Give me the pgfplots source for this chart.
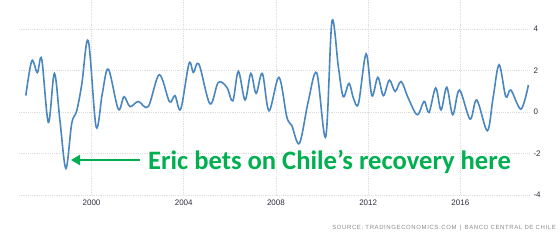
\documentclass[border=0pt]{standalone}
\usepackage{fontspec}
\setmainfont{Liberation Sans}
\newfontfamily\calibri{Carlito}
\newfontfamily\srcfont[LetterSpace=10]{Liberation Sans}
\usepackage{pgfplots}
\pgfplotsset{compat=1.18}
\usetikzlibrary{arrows.meta}
\definecolor{linec}{HTML}{4A86C0}
\definecolor{grn}{HTML}{00B050}
\definecolor{gridc}{HTML}{DEDEDE}
\definecolor{tickc}{HTML}{2E2E40}
\definecolor{srcc}{HTML}{8A8A8A}
\begin{document}
\begin{tikzpicture}
\path[use as bounding box] (-19pt,-51pt) rectangle (541pt,195pt);
\begin{axis}[
  at={(0,0)}, anchor=south west,
  scale only axis, width=511pt, height=195pt,
  xmin=1996.855, xmax=2019.02, ymin=-4, ymax=5.4,
  axis line style={draw=none},
  tick style={draw=none},
  xmajorgrids, ymajorgrids,
  grid style={gridc, line width=0.6pt, dash pattern=on 1.2pt off 1pt},
  xtick={2000,2004,2008,2012,2016},
  xticklabels={2000,2004,2008,2012,2016},
  ytick={-4,-2,0,2,4},
  yticklabels={-4,-2,0,2,4},
  yticklabel pos=right,
  ticklabel style={font=\fontsize{8}{9}\selectfont, text=tickc},
  yticklabel style={anchor=west, xshift=0pt},
  xticklabel style={yshift=-1pt},
  clip=false,
]
\addplot[linec, line width=1.6pt, smooth, tension=0.55] coordinates {
(1997.15,0.79) (1997.41,2.47) (1997.65,1.90) (1997.84,2.55) (1998.13,-0.50)
(1998.39,1.86) (1998.63,-0.40) (1998.89,-2.72) (1999.14,-0.56) (1999.36,0.06)
(1999.58,1.35) (1999.86,3.44) (2000.20,-0.71) (2000.47,0.90) (2000.73,2.07) (2001.16,0.14)
(2001.41,0.74) (2001.67,0.26) (2002.03,0.51) (2002.46,0.26) (2002.94,1.80)
(2003.38,0.50) (2003.62,0.79) (2003.87,0.14) (2004.23,2.34) (2004.42,1.91)
(2004.66,2.31) (2005.14,0.39) (2005.50,1.43) (2005.87,1.19) (2006.13,0.54)
(2006.37,1.96) (2006.66,0.58) (2006.91,1.86) (2007.14,0.90) (2007.41,1.86)
(2007.70,0.06) (2008.13,1.67) (2008.47,-0.23) (2008.69,-0.66) (2009.02,-1.51)
(2009.40,0.50) (2009.77,1.88) (2010.16,-1.19) (2010.43,4.37) (2010.71,2.15)
(2010.92,0.74) (2011.17,1.38) (2011.36,0.67) (2011.58,0.41) (2011.91,2.80)
(2012.16,0.79) (2012.42,1.67) (2012.66,0.79) (2012.92,1.54) (2013.17,0.99)
(2013.43,1.47) (2013.74,0.67) (2014.13,-0.13) (2014.43,0.51) (2014.64,-0.02)
(2014.93,1.16) (2015.16,0.10) (2015.41,1.19) (2015.67,-0.13) (2015.96,1.06)
(2016.42,-0.34) (2016.71,0.58) (2017.17,-0.90) (2017.42,0.70) (2017.68,2.28)
(2017.97,0.74) (2018.19,1.06) (2018.63,0.14) (2018.95,1.30)
};
\end{axis}
\draw[grn, line width=2.6pt, -{Triangle[length=9pt, width=10pt]}] (121pt,35pt) -- (52pt,35pt);
\node[anchor=base west, inner sep=0pt, text=grn, font=\calibri\bfseries\fontsize{26.6}{30}\selectfont] at (129pt,25pt) {Eric bets on Chile’s recovery here};
\node[anchor=east, inner sep=0pt, text=srcc, font=\srcfont\fontsize{6}{7}\selectfont] at (537pt,-32.7pt) {SOURCE: TRADINGECONOMICS.COM \,|\, BANCO CENTRAL DE CHILE};
\end{tikzpicture}
\end{document}
